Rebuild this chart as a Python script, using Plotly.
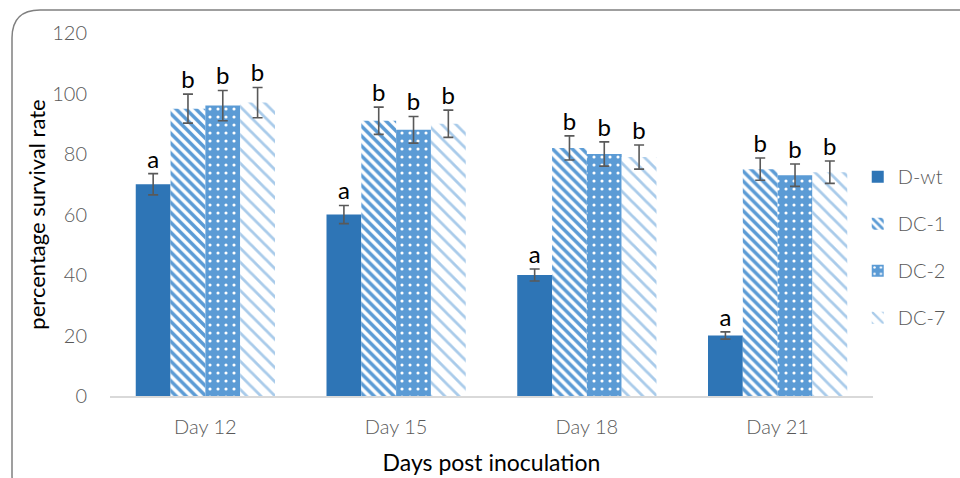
import plotly.graph_objects as go

categories = ["Day 12", "Day 15", "Day 18", "Day 21"]
series_names = ["D-wt", "DC-1", "DC-2", "DC-7"]
d_wt = [70, 60, 40, 20]
dc_1 = [95, 91, 82, 75]
dc_2 = [96, 88, 80, 73]
dc_7 = [97, 90, 79, 74]
d_wt_err = [3.5, 3, 2, 1.2]
dc_1_err = [4.8, 4.5, 4, 3.7]
dc_2_err = [5, 4.4, 4, 3.7]
dc_7_err = [5, 4.5, 4, 3.7]
d_wt_lbl = ["a", "a", "a", "a"]
dc_1_lbl = ["b", "b", "b", "b"]
dc_2_lbl = ["b", "b", "b", "b"]
dc_7_lbl = ["b", "b", "b", "b"]
y_ticks = [0, 20, 40, 60, 80, 100, 120]

values = [d_wt, dc_1, dc_2, dc_7]
errors = [d_wt_err, dc_1_err, dc_2_err, dc_7_err]
labels = [d_wt_lbl, dc_1_lbl, dc_2_lbl, dc_7_lbl]

markers = [
    dict(color="#2E75B6", line=dict(width=0)),
    dict(color="#5B9BD5", line=dict(width=0),
         pattern=dict(shape="\\", fgcolor="#5B9BD5", bgcolor="white", size=7, solidity=0.5, fillmode="replace")),
    dict(color="#5B9BD5", line=dict(width=0),
         pattern=dict(shape=".", fgcolor="white", bgcolor="#5B9BD5", size=8, solidity=0.12, fillmode="replace")),
    dict(color="#9DC3E6", line=dict(width=0),
         pattern=dict(shape="\\", fgcolor="#A9CBEA", bgcolor="white", size=10, solidity=0.28, fillmode="replace")),
]

FONT = "Lato"
fig = go.Figure()
for i, name in enumerate(series_names):
    fig.add_trace(go.Bar(
        x=categories, y=values[i], name=name, marker=markers[i],
        offsetgroup=str(i), legendgroup=name,
        error_y=dict(type="data", array=errors[i], color="#595959", thickness=1.6, width=5),
    ))
for i, name in enumerate(series_names):
    tops = [v + e for v, e in zip(values[i], errors[i])]
    fig.add_trace(go.Scatter(
        x=categories, y=tops, mode="text", text=labels[i], textposition="top center",
        textfont=dict(family=FONT, size=24, color="black"),
        offsetgroup=str(i), showlegend=False, hoverinfo="skip",
    ))

W, H = 960, 478
L, R, T, B = 110, 87, 33, 82
pw, ph = W - L - R, H - T - B

def px(x):
    return (x - L) / pw

def py(y):
    return (H - B - y) / ph

x0, y0, x1, y1, r = 12, 10, 988, 503, 28
path = (f"M {px(x0)},{py(y0 + r)} "
        f"Q {px(x0)},{py(y0)} {px(x0 + r)},{py(y0)} "
        f"L {px(x1 - r)},{py(y0)} "
        f"Q {px(x1)},{py(y0)} {px(x1)},{py(y0 + r)} "
        f"L {px(x1)},{py(y1 - r)} "
        f"Q {px(x1)},{py(y1)} {px(x1 - r)},{py(y1)} "
        f"L {px(x0 + r)},{py(y1)} "
        f"Q {px(x0)},{py(y1)} {px(x0)},{py(y1 - r)} Z")

TICKFONT = dict(family=FONT, size=20, color="#595959", weight=300)

fig.update_layout(
    width=W, height=H,
    margin=dict(l=L, r=R, t=T, b=B, autoexpand=False),
    plot_bgcolor="white", paper_bgcolor="white",
    barmode="group", bargap=0.27, bargroupgap=0,
    scattermode="group", scattergap=0.27,
    font=dict(family=FONT, color="#595959"),
    showlegend=True,
    legend=dict(x=0.98, y=0.41, xanchor="left", yanchor="middle",
                font=TICKFONT,
                traceorder="grouped", tracegroupgap=18, itemwidth=30),
    xaxis=dict(showline=True, linecolor="#D9D9D9", linewidth=1.5, ticks="", automargin=False,
               tickfont=TICKFONT,
               ticklabelstandoff=12,
               title=dict(text="Days post inoculation", font=dict(family=FONT, size=23, color="black"), standoff=18),
               showgrid=False),
    yaxis=dict(range=[0, 120], tickvals=y_ticks, showline=False, showgrid=False, zeroline=False, automargin=False,
               tickfont=TICKFONT,
               ticklabelstandoff=22,
               title=dict(text="percentage survival rate", font=dict(family=FONT, size=22, color="black"), standoff=0)),
    shapes=[dict(type="path", path=path, xref="paper", yref="paper",
                 line=dict(color="#808080", width=1.5), fillcolor="rgba(0,0,0,0)", layer="above")],
)

fig.write_html("out.html", config={"displayModeBar": False},
               post_script="document.body.style.margin='0';document.body.style.overflow='hidden';")
